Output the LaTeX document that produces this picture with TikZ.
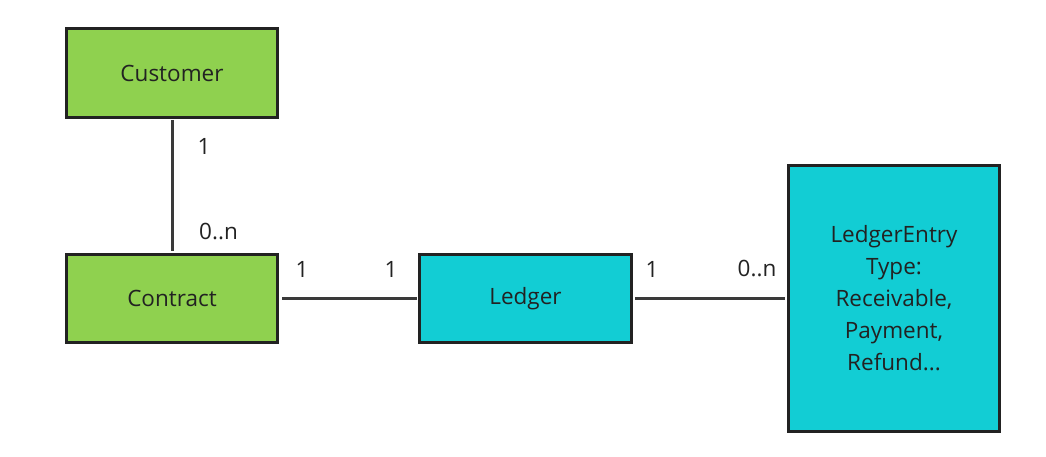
\documentclass[tikz,border=0pt]{standalone}
\usepackage{fontspec}
\setmainfont{Open Sans}
\definecolor{boxgreen}{HTML}{8FD14F}
\definecolor{boxcyan}{HTML}{12CDD4}
\definecolor{ink}{HTML}{222222}
\definecolor{edge}{HTML}{3A3A3A}
\tikzset{
  entity/.style={draw=ink, line width=3pt, inner sep=0pt, align=center,
    text=ink, font=\fontsize{22.5}{32}\selectfont},
  conn/.style={draw=edge, line width=3pt},
  mult/.style={text=ink, font=\fontsize{22.5}{26}\selectfont, inner sep=0pt}
}
\begin{document}
\begin{tikzpicture}[x=1pt,y=-1pt]
\useasboundingbox (0,0) rectangle (1046,457);
\node[entity, fill=boxgreen, minimum width=211pt, minimum height=89pt] (cust) at (172,73) {Customer};
\node[entity, fill=boxgreen, minimum width=211pt, minimum height=88pt] (contract) at (172,298.5) {Contract};
\node[entity, fill=boxcyan, minimum width=212pt, minimum height=88pt] (ledger) at (525.5,298.5) {Ledger};
\node[entity, fill=boxcyan, minimum width=211pt, minimum height=266pt] (entry) at (894,298.5) {LedgerEntry\\Type:\\Receivable,\\Payment,\\Refund...};
\draw[conn, shorten <=1pt, shorten >=2pt] (cust.south) -- (contract.north);
\draw[conn, shorten <=3pt, shorten >=1pt] (contract.east) -- (ledger.west);
\draw[conn, shorten <=2pt, shorten >=2pt] (ledger.east) -- (entry.west);
\node[mult] (m1) at (204,146) {1};
\node[mult] (m2) at (218.5,231.5) {0..n};
\node[mult] (m3) at (302,269) {1};
\node[mult] (m4) at (391,269) {1};
\node[mult] (m5) at (652,269) {1};
\node[mult] (m6) at (757,269) {0..n};
\end{tikzpicture}
\end{document}
